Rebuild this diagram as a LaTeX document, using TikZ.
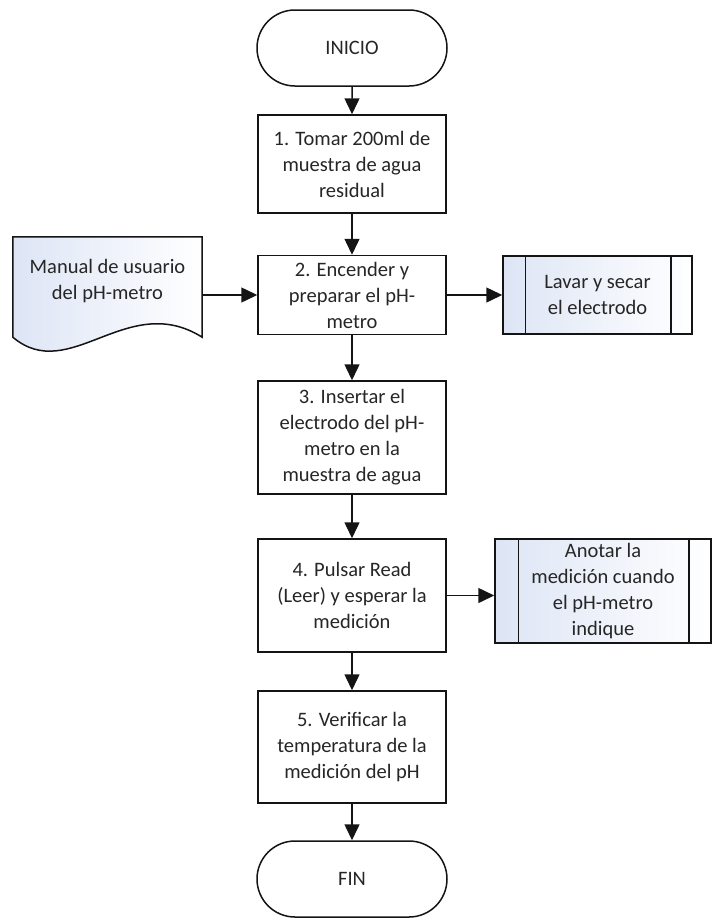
\documentclass[tikz,border=0pt]{standalone}
\usepackage{fontspec}
\setmainfont{Carlito}
\usetikzlibrary{shapes.misc,arrows.meta}

\definecolor{inkline}{RGB}{20,20,20}
\definecolor{inktext}{RGB}{38,38,38}
\definecolor{paleblue}{RGB}{221,229,245}
\definecolor{fadeblue}{RGB}{240,244,251}

\tikzset{
  base/.style={draw=inkline, line width=1.5pt, text=inktext, align=center,
    font=\fontsize{20.5}{26}\selectfont, inner sep=0pt},
  terminal/.style={base, rounded rectangle, minimum width=190pt, minimum height=76pt, fill=white},
  procbox/.style={base, rectangle, minimum width=188pt, fill=white},
  softfill/.style={left color=paleblue, middle color=fadeblue, right color=white},
  subproc/.style={base, rectangle, softfill},
  docbox/.style={rectangle, inner sep=0pt, minimum width=189pt, minimum height=100pt},
  flow/.style={draw=inkline, line width=1.5pt, -{Triangle[length=16pt,width=15pt]}},
  edge/.style={draw=inkline, line width=1.5pt}
}

\begin{document}
\begin{tikzpicture}[x=1pt,y=-1pt]
  \useasboundingbox (0,0) rectangle (720,921);

  % main column
  \node[terminal] (inicio) at (352,48) {INICIO};
  \node[procbox, minimum height=98pt] (p1) at (352,164) {1. Tomar 200ml de\\muestra de agua\\residual};
  \node[procbox, minimum height=79pt] (p2) at (352,295) {2. Encender y\\preparar el pH-\\metro};
  \node[procbox, minimum height=113pt] (p3) at (352,437.5) {3. Insertar el\\electrodo del pH-\\metro en la\\muestra de agua};
  \node[procbox, minimum height=113pt] (p4) at (352,595.5) {4. Pulsar Read\\(Leer) y esperar la\\medición};
  \node[procbox, minimum height=112pt] (p5) at (352,747) {5. Verificar la\\temperatura de la\\medición del pH};
  \node[terminal] (fin) at (352,879) {FIN};

  % predefined processes on the right
  \node[subproc, minimum width=189pt, minimum height=78pt] (lavar) at (597.5,295) {Lavar y secar\\el electrodo};
  \draw[edge] ([xshift=23pt]lavar.north west) -- ([xshift=23pt]lavar.south west);
  \draw[edge] ([xshift=-22pt]lavar.north east) -- ([xshift=-22pt]lavar.south east);

  \node[subproc, minimum width=216pt, minimum height=104pt] (anotar) at (603,591) {Anotar la\\medición cuando\\el pH-metro\\indique};
  \draw[edge] ([xshift=24pt]anotar.north west) -- ([xshift=24pt]anotar.south west);
  \draw[edge] ([xshift=-23pt]anotar.north east) -- ([xshift=-23pt]anotar.south east);

  % document on the left
  \node[docbox] (manual) at (107.5,287) {};
  \draw[edge, softfill]
    (manual.south west) -- (manual.north west) -- (manual.north east) -- (manual.south east)
    .. controls ([xshift=-75pt,yshift=47pt]manual.south east) and ([xshift=57pt,yshift=-48pt]manual.south west) .. (manual.south west) -- cycle;
  \node[base, draw=none] (manualtext) at ([yshift=6pt]manual.center) {Manual de usuario\\del pH-metro};

  % connectors
  \draw[flow] (inicio) -- (p1);
  \draw[flow] (p1) -- (p2);
  \draw[flow] (p2) -- (p3);
  \draw[flow] (p3) -- (p4);
  \draw[flow] (p4) -- (p5);
  \draw[flow] (p5) -- (fin);
  \draw[flow] (manual.east |- p2.west) -- (p2.west);
  \draw[flow] (p2.east) -- (lavar.west);
  \draw[flow] (p4.east) -- (anotar.west |- p4.east);
\end{tikzpicture}
\end{document}
